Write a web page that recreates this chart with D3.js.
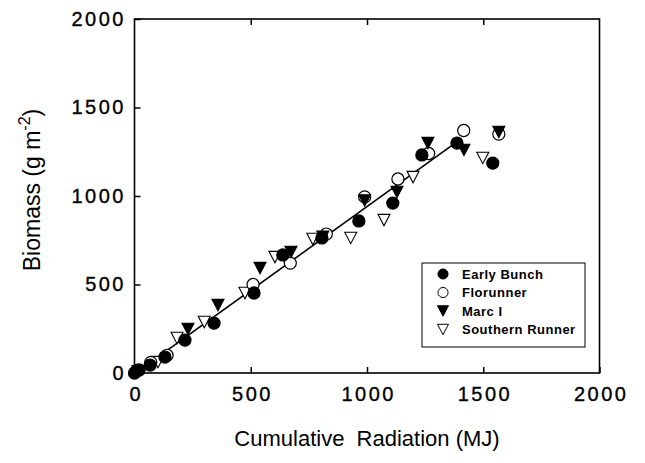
<!DOCTYPE html>
<html><head><meta charset="utf-8">
<script src="https://cdn.jsdelivr.net/npm/d3@7"></script>
<style>body{margin:0;background:#fff}svg{display:block}text{font-family:"Liberation Sans",Arial,sans-serif;fill:#000}</style>
</head><body><svg id="c" width="645" height="463"></svg>
<script>
const ticks = [0, 500, 1000, 1500, 2000];
const earlyX = [0, 20, 67, 131, 217, 342, 514, 638, 806, 965, 1111, 1236, 1387, 1541];
const earlyY = [0, 17, 45, 90, 186, 282, 452, 667, 763, 859, 960, 1232, 1299, 1186];
const floX = [10, 70, 140, 510, 670, 825, 990, 1133, 1265, 1416, 1567];
const floY = [15, 60, 100, 500, 621, 785, 995, 1096, 1240, 1370, 1350];
const marcX = [15, 230, 359, 540, 673, 810, 990, 1129, 1262, 1417, 1567];
const marcY = [10, 249, 384, 593, 684, 770, 975, 1023, 1299, 1260, 1362];
const southX = [101, 183, 300, 475, 604, 767, 930, 1073, 1198, 1498];
const southY = [62, 198, 288, 452, 655, 757, 763, 864, 1107, 1215];
const lineX = [0, 1385];
const lineY = [-5, 1304];
const seriesNames = ["Early Bunch", "Florunner", "Marc I", "Southern Runner"];

const svg = d3.select("#c");
const x = d3.scaleLinear().domain([0, 2000]).range([134.5, 599.5]);
const y = d3.scaleLinear().domain([0, 2000]).range([373, 19]);

svg.append("rect").attr("x", 134.5).attr("y", 19).attr("width", 465).attr("height", 354)
  .attr("fill", "none").attr("stroke", "#000").attr("stroke-width", 1.6);

const gx = svg.append("g").attr("transform", "translate(0,373)")
  .call(d3.axisBottom(x).tickValues(ticks).tickSize(-6).tickPadding(14).tickFormat(d3.format("d")));
const gy = svg.append("g").attr("transform", "translate(134.5,0)")
  .call(d3.axisLeft(y).tickValues(ticks).tickSize(-6).tickPadding(11).tickFormat(d3.format("d")));
const gt = svg.append("g").attr("transform", "translate(0,19)")
  .call(d3.axisTop(x).tickValues(ticks.slice(1, 4)).tickSize(-6).tickFormat(""));
[gx, gy, gt].forEach(g => {
  g.select(".domain").remove();
  g.selectAll(".tick line").attr("stroke", "#000").attr("stroke-width", 1.5);
  g.selectAll("text").attr("font-size", 20).attr("fill", "#000").attr("letter-spacing", 2.5)
    .attr("stroke", "#000").attr("stroke-width", 0.35)
    .style("font-family", "'Liberation Sans',Arial,sans-serif");
});
gx.selectAll("text").attr("dx", 1.25);
gy.selectAll("text").attr("dx", 2.5);

svg.append("line").attr("x1", x(lineX[0])).attr("y1", y(lineY[0])).attr("x2", x(lineX[1])).attr("y2", y(lineY[1]))
  .attr("stroke", "#000").attr("stroke-width", 1.6);

const circ = d3.symbol().type(d3.symbolCircle).size(115);
function tri(cx, cy, s) {
  const h = s * 0.95;
  return `M${cx - s / 2},${cy - h / 2}L${cx + s / 2},${cy - h / 2}L${cx},${cy + h / 2}Z`;
}
function drawSeries(xs, ys, kind) {
  const data = xs.map((v, i) => [v, ys[i]]);
  const g = svg.append("g");
  if (kind === "fc" || kind === "oc") {
    g.selectAll("path").data(data).join("path")
      .attr("d", circ).attr("transform", d => `translate(${x(d[0])},${y(d[1])})`)
      .attr("fill", kind === "fc" ? "#000" : "#fff").attr("stroke", "#000").attr("stroke-width", 1.2);
  } else {
    g.selectAll("path").data(data).join("path")
      .attr("d", d => tri(x(d[0]), y(d[1]), 12))
      .attr("fill", kind === "ft" ? "#000" : "#fff").attr("stroke", "#000").attr("stroke-width", 1.1);
  }
}
drawSeries(southX, southY, "ot");
drawSeries(floX, floY, "oc");
drawSeries(earlyX, earlyY, "fc");
drawSeries(marcX, marcY, "ft");

const lg = svg.append("g");
lg.append("rect").attr("x", 422).attr("y", 263).attr("width", 163).attr("height", 84)
  .attr("fill", "#fff").attr("stroke", "#000").attr("stroke-width", 1);
const kinds = ["fc", "oc", "ft", "ot"];
const smallCirc = d3.symbol().type(d3.symbolCircle).size(80);
seriesNames.forEach((n, i) => {
  const cy = 274 + i * 18.5, cx = 443;
  if (kinds[i] === "fc" || kinds[i] === "oc") {
    lg.append("path").attr("d", smallCirc).attr("transform", `translate(${cx},${cy})`)
      .attr("fill", kinds[i] === "fc" ? "#000" : "#fff").attr("stroke", "#000").attr("stroke-width", 1);
  } else {
    lg.append("path").attr("d", tri(cx, cy, 11)).attr("fill", kinds[i] === "ft" ? "#000" : "#fff")
      .attr("stroke", "#000").attr("stroke-width", 1);
  }
  lg.append("text").attr("x", 462).attr("y", cy + 4.5).attr("font-size", 13).attr("font-weight", "bold")
    .attr("letter-spacing", 0.5).text(n);
});

svg.append("text").attr("x", 367).attr("y", 446).attr("text-anchor", "middle").attr("font-size", 22)
  .attr("xml:space", "preserve").text("Cumulative  Radiation (MJ)");
const yt = svg.append("text").attr("transform", "translate(40,190) rotate(-90)").attr("text-anchor", "middle").attr("font-size", 23);
yt.append("tspan").text("Biomass (g m");
yt.append("tspan").attr("dy", -10).attr("font-size", 16).text("-2");
yt.append("tspan").attr("dy", 10).text(")");
</script></body></html>
